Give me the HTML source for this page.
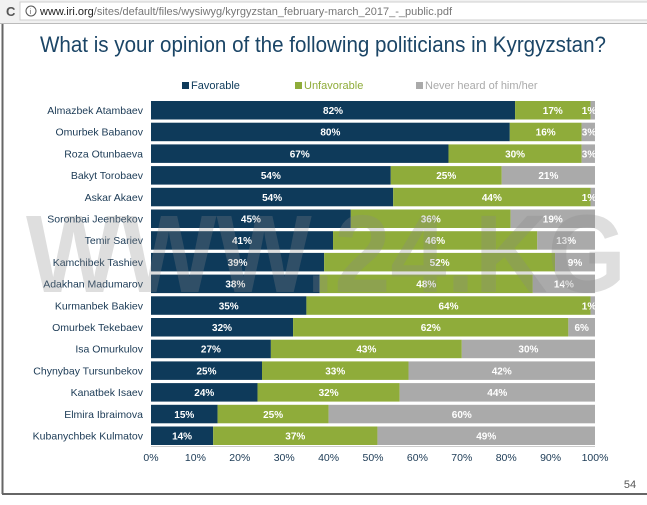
<!DOCTYPE html>
<html><head><meta charset="utf-8"><style>
body{margin:0;width:647px;height:500px;overflow:hidden;background:#fff;font-family:"Liberation Sans",sans-serif;}
</style></head><body>
<svg width="647" height="500" xmlns="http://www.w3.org/2000/svg" font-family="Liberation Sans, sans-serif">
<rect x="0" y="0" width="647" height="24" fill="#f1f1f1"/>
<rect x="20" y="2" width="630" height="18" fill="#fff" stroke="#cfcfcf"/>
<text x="6" y="16" font-size="13" fill="#555" font-weight="bold">C</text>
<circle cx="31" cy="11" r="5" fill="none" stroke="#555" stroke-width="1"/>
<text x="29.5" y="14" font-size="7" fill="#555">i</text>
<text x="40" y="15" font-size="11" fill="#777"><tspan fill="#222">www.iri.org</tspan>/sites/default/files/wysiwyg/kyrgyzstan_february-march_2017_-_public.pdf</text>
<line x1="0" y1="23.5" x2="647" y2="23.5" stroke="#bbb"/>
<line x1="2.5" y1="24" x2="2.5" y2="494" stroke="#666" stroke-width="2"/>
<line x1="2" y1="494" x2="647" y2="494" stroke="#666" stroke-width="2"/>
<text x="323" y="52" font-size="22" fill="#1b4566" text-anchor="middle" textLength="566" lengthAdjust="spacingAndGlyphs">What is your opinion of the following politicians in Kyrgyzstan?</text>
<g font-size="11">
<rect x="182" y="82" width="7" height="7" fill="#0e3a5a"/><text x="191" y="89" fill="#0e3a5a">Favorable</text>
<rect x="295" y="82" width="7" height="7" fill="#8fac3a"/><text x="304" y="89" fill="#8fac3a">Unfavorable</text>
<rect x="416" y="82" width="7" height="7" fill="#aaa"/><text x="425" y="89" fill="#aaa">Never heard of him/her</text>
</g>
<g id="bars" font-size="10" font-weight="bold" fill="#fff" text-anchor="middle"></g>
<g font-size="10.5" fill="#1b3a55" text-anchor="end">
<text x="143" y="114">Almazbek Atambaev</text>
<text x="143" y="135.7">Omurbek Babanov</text>
<text x="143" y="157.4">Roza Otunbaeva</text>
<text x="143" y="179.1">Bakyt Torobaev</text>
<text x="143" y="200.8">Askar Akaev</text>
<text x="143" y="222.5">Soronbai Jeenbekov</text>
<text x="143" y="244.2">Temir Sariev</text>
<text x="143" y="265.9">Kamchibek Tashiev</text>
<text x="143" y="287.6">Adakhan Madumarov</text>
<text x="143" y="309.3">Kurmanbek Bakiev</text>
<text x="143" y="331">Omurbek Tekebaev</text>
<text x="143" y="352.7">Isa Omurkulov</text>
<text x="143" y="374.4">Chynybay Tursunbekov</text>
<text x="143" y="396.1">Kanatbek Isaev</text>
<text x="143" y="417.8">Elmira Ibraimova</text>
<text x="143" y="439.5">Kubanychbek Kulmatov</text>
</g>
<g font-size="10.5" fill="#1b3a55" text-anchor="middle">
<text x="151" y="461">0%</text><text x="195.4" y="461">10%</text><text x="239.8" y="461">20%</text><text x="284.2" y="461">30%</text><text x="328.6" y="461">40%</text><text x="373" y="461">50%</text><text x="417.4" y="461">60%</text><text x="461.8" y="461">70%</text><text x="506.2" y="461">80%</text><text x="550.6" y="461">90%</text><text x="595" y="461">100%</text>
</g>
<line x1="151" y1="446.5" x2="595" y2="446.5" stroke="#ccc"/>
<text x="630" y="488" font-size="11" fill="#555" text-anchor="middle">54</text>
<text x="326" y="292" font-size="110" font-weight="bold" fill="#888" fill-opacity="0.28" text-anchor="middle" textLength="600" lengthAdjust="spacingAndGlyphs">WWW.24.KG</text>
</svg>
<script>
var d=[[82,17,1],[80,16,3],[67,30,3],[54,25,21],[54,44,1],[45,36,19],[41,46,13],[39,52,9],[38,48,14],[35,64,1],[32,62,6],[27,43,30],[25,33,42],[24,32,44],[15,25,60],[14,37,49]];
var c=['#0e3a5a','#8fac3a','#aaaaaa'],g=document.getElementById('bars'),s='';
d.forEach(function(r,i){var y=101+i*21.7,t=r[0]+r[1]+r[2],x=151;
r.forEach(function(v,j){var w=v/t*444;s+='<rect x="'+x+'" y="'+y+'" width="'+w+'" height="18.5" fill="'+c[j]+'"/>';
var tx=x+w/2;if(v<=3)tx=x+w-6;s+='<text x="'+tx+'" y="'+(y+13)+'">'+v+'%</text>';x+=w;});});
g.innerHTML=s;
</script>
</body></html>
